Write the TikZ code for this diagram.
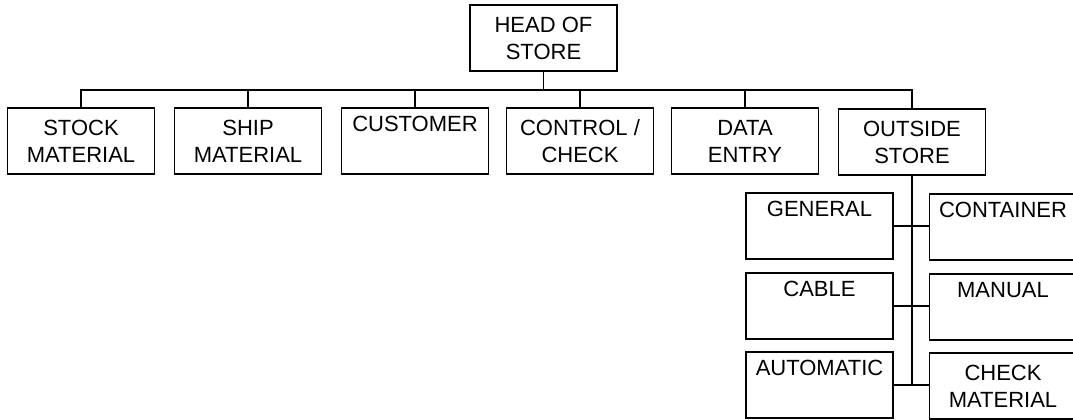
\documentclass[tikz,border=0pt]{standalone}
\usepackage{fontspec}
\setmainfont{Liberation Sans}
\begin{document}
\begin{tikzpicture}[x=1pt,y=-1pt,
  orgbox/.style={draw, line width=1.4pt, rectangle, minimum width=147pt,
    minimum height=66pt, inner sep=0pt, align=center,
    font=\fontsize{22}{27}\selectfont},
  link/.style={line width=1.4pt}]
\useasboundingbox (0,0) rectangle (1073,420);
\clip (0,0) rectangle (1073,420);

% top of the chart
\node[orgbox] (head) at (543.5,38) {HEAD OF\\STORE};

% first level
\node[orgbox] (stock)   at (81,141)  {STOCK\\MATERIAL};
\node[orgbox] (ship)    at (248,141) {SHIP\\MATERIAL};
\node[orgbox] (cust)    at (415,141) {CUSTOMER\\\strut};
\node[orgbox] (control) at (580,141) {CONTROL /\\CHECK};
\node[orgbox] (data)    at (745,141) {DATA\\ENTRY};
\node[orgbox] (outside) at (912,142) {OUTSIDE\\STORE};

% sections of the outside store
\node[orgbox] (general) at (819.5,226) {GENERAL\\\strut};
\node[orgbox] (contain) at (1003,227)  {CONTAINER\\\strut};
\node[orgbox] (cable)   at (819.5,306) {CABLE\\\strut};
\node[orgbox] (manual)  at (1003,307)  {MANUAL\\\strut};
\node[orgbox] (auto)    at (819.5,385) {AUTOMATIC\\\strut};
\node[orgbox] (checkm)  at (1003,386)  {CHECK\\MATERIAL};

% bus line under the head
\coordinate (bus) at (0,90);
\draw[link] (head.south) -- (head.south |- bus);
\draw[link] (stock.north) |- (outside.north |- bus) -- (outside.north);
\foreach \n in {ship,cust,control,data}
  \draw[link] (\n.north) -- (\n.north |- bus);

% trunk and branches of the outside store
\draw[link] (outside.south) -- (outside.south |- auto.east);
\draw[link] (general.east) -- (contain.west |- general.east);
\draw[link] (cable.east) -- (manual.west |- cable.east);
\draw[link] (auto.east) -- (checkm.west |- auto.east);
\end{tikzpicture}
\end{document}
